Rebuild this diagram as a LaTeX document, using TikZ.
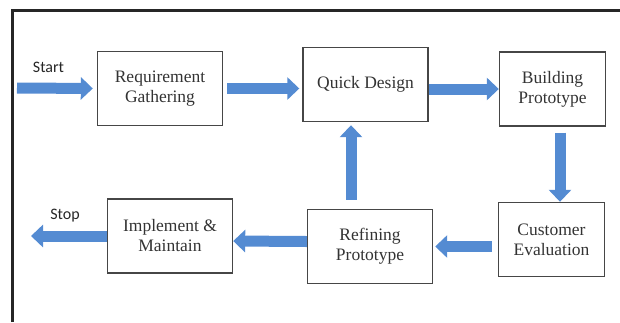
\documentclass[tikz,border=0pt]{standalone}
\usepackage{fontspec}
\setmainfont{Liberation Serif}
\newfontfamily\labelfont{Carlito}
\usetikzlibrary{arrows.meta}
\definecolor{flowblue}{RGB}{84,139,210}
\definecolor{boxgray}{RGB}{70,70,70}

\begin{document}
\begin{tikzpicture}[x=1pt,y=-1pt]
    \tikzstyle{stage}=[draw=boxgray, line width=1.4pt, fill=white, align=center, inner sep=0pt, minimum height=74pt, text=black!80, font=\fontsize{17.5}{20}\selectfont]
    \tikzstyle{wide stage}=[stage, minimum width=125pt]
    \tikzstyle{narrow stage}=[stage, minimum width=106pt]
    \tikzstyle{flow}=[color=flowblue, line width=11pt, -{Triangle[width=22pt,length=12pt]}]
    \tikzstyle{annot}=[text=black!85, font=\labelfont\fontsize{16}{18}\selectfont]

    \useasboundingbox (0,0) rectangle (620,322);

    % frame
    \draw[line width=3pt, black!85] (12,322) -- (12,10) -- (620,10);

    % Draw the top row
    \node[wide stage] (RG) at (160,88.5) {Requirement\\Gathering};
    \node[wide stage] (QD) at (365.5,84.5) {Quick Design};
    \node[narrow stage] (BP) at (552.5,89) {Building\\Prototype};

    % Draw the bottom row
    \node[wide stage] (IM) at (170,236) {Implement \&\\Maintain};
    \node[wide stage] (RP) at (370,246.5) {Refining\\Prototype};
    \node[narrow stage] (CE) at (551.5,239.5) {Customer\\Evaluation};

    % start and stop
    \coordinate (start) at (17,88);
    \coordinate (stop) at (31,236);
    \node[annot] (start label) at (48.5,67) {Start};
    \node[annot] (stop label) at (65,216) {Stop};

    \draw[flow, shorten >=4pt] (start) -- (RG.west);
    \draw[flow, shorten <=4pt, shorten >=3pt] (RG.east) -- (RG.east -| QD.west);
    \draw[flow] (QD.east |- BP.west) -- (BP.west);
    \draw[flow, shorten <=6pt] ([xshift=7.5pt]BP.south) -- ([xshift=8.5pt]CE.north);
    \draw[flow, shorten <=6pt, shorten >=2pt] (CE.west |- RP.east) -- (RP.east);
    \draw[flow, shorten <=9pt, shorten >=3pt] ([xshift=-19pt]RP.north) -- ([xshift=-14.5pt]QD.south);
    \draw[flow] ([yshift=5pt]RP.west) -- ([yshift=-5pt]IM.east);
    \draw[flow] (IM.west) -- (stop);
\end{tikzpicture}
\end{document}
